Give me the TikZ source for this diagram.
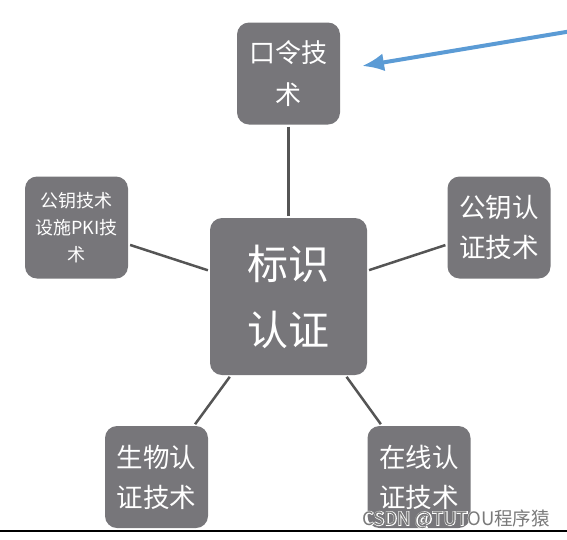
\documentclass[tikz,border=0pt]{standalone}
\usepackage{fontspec}
\newfontfamily\cjk{Noto Sans CJK SC}
\newfontfamily\cjkhalo[FakeBold=7]{Noto Sans CJK SC}
\usetikzlibrary{arrows.meta}
\definecolor{boxgray}{HTML}{77767A}
\definecolor{linegray}{HTML}{555555}
\definecolor{arrowblue}{HTML}{5B9BD5}
\definecolor{markgray}{HTML}{7A7A7A}
\begin{document}
\begin{tikzpicture}[x=1pt,y=-1pt,
	tech/.style={fill=boxgray,rounded corners=12pt,text=white,align=center,inner sep=0pt,minimum width=103pt,minimum height=102pt,font=\cjk\fontsize{26.5}{40}\selectfont},
	link/.style={draw=linegray,line width=2.5pt,shorten <=2pt,shorten >=2pt}]
	\useasboundingbox (0,0) rectangle (567,539);

	% the core and its five methods
	\node[tech,minimum width=157pt,minimum height=157pt,font=\cjk\fontsize{41}{66}\selectfont] (core) at (288.5,296.5) {标识\\认证};
	\node[tech,font=\cjk\fontsize{26}{42}\selectfont] (pass) at (288.5,73.5) {口令技\\术};
	\node[tech,font=\cjk\fontsize{18}{27}\selectfont] (pki) at (76.5,227.5) {公钥技术\\设施PKI技\\术};
	\node[tech] (pubkey) at (499,227.5) {公钥认\\证技术};
	\node[tech] (bio) at (156.5,477) {生物认\\证技术};
	\node[tech] (online) at (419,477) {在线认\\证技术};

	\draw[link] (pass) -- (core);
	\draw[link] (pki) -- (core);
	\draw[link] (pubkey) -- (core);
	\draw[link] (bio) -- (core);
	\draw[link] (online) -- (core);

	% pointer to the password box
	\coordinate (tail) at (572,31);
	\coordinate (tip) at (362,66);
	\draw[arrowblue,line width=4pt,-{Latex[length=22pt,width=18pt]}] (tail) -- (tip);

	% watermark (white halo under grey text) and bottom rule
	\node[text=white,font=\cjkhalo\fontsize{18.5}{20}\selectfont,inner sep=0pt] (wmhalo) at (456,519) {CSDN @TUTOU程序猿};
	\node[text=markgray,font=\cjk\fontsize{18.5}{20}\selectfont,inner sep=0pt] (wm) at (wmhalo) {CSDN @TUTOU程序猿};
	\draw[black,line width=1.5pt] (0,531) -- (567,531);
\end{tikzpicture}
\end{document}
